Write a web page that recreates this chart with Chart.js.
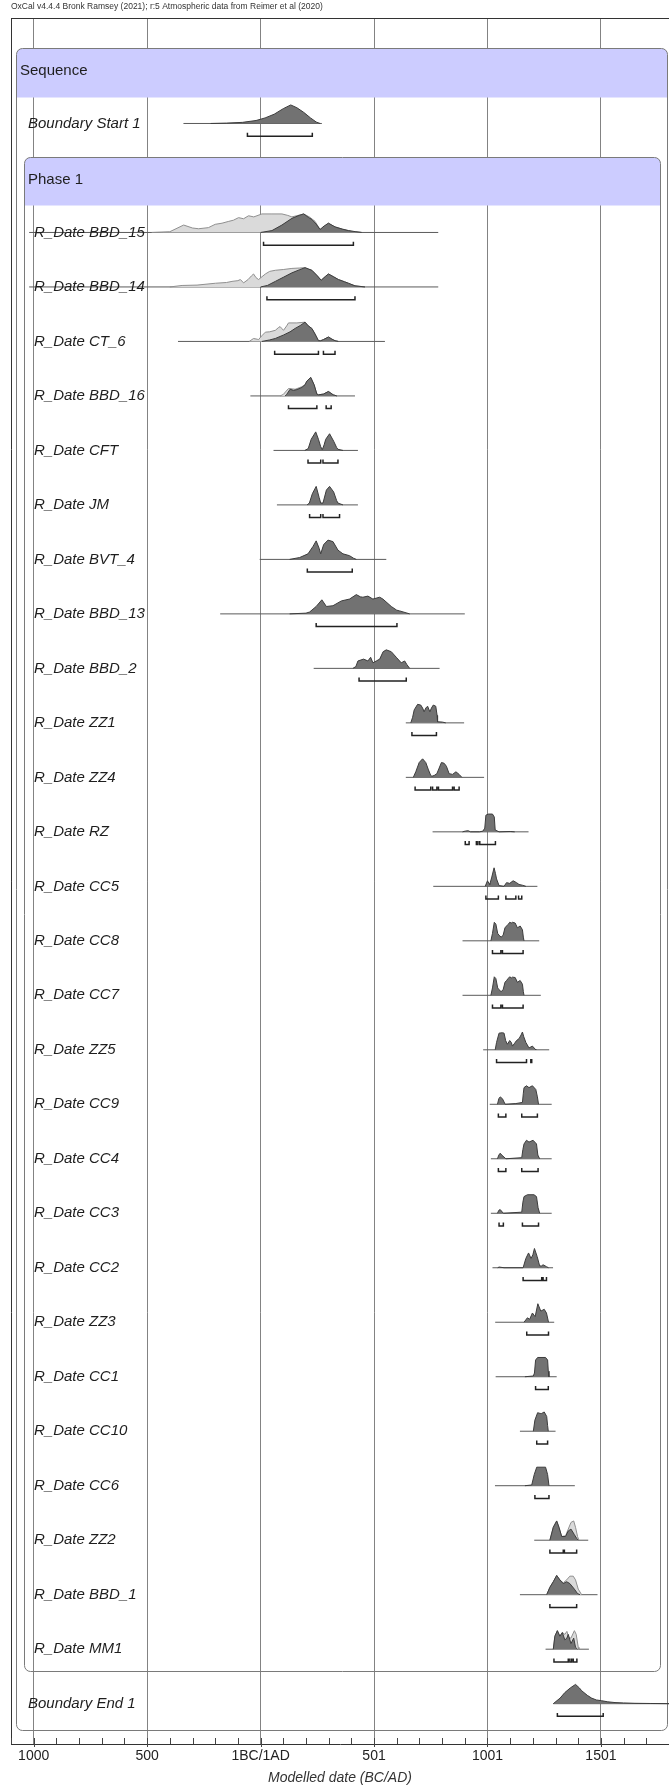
<!DOCTYPE html>
<html><head><meta charset="utf-8">
<script src="https://cdn.jsdelivr.net/npm/chart.js@4.4.1/dist/chart.umd.min.js"></script>
<style>html,body{margin:0;padding:0;background:#fff;} #wrap{width:669px;height:1787px;position:relative;}</style>
</head><body><div id="wrap"><canvas id="c"></canvas></div>
<script>
const headerText = 'OxCal v4.4.4 Bronk Ramsey (2021); r:5 Atmospheric data from Reimer et al (2020)';
const axisTitle = 'Modelled date (BC/AD)';
const xTickYears = [-1000, -500, 0, 500, 1000, 1500];
const xTickLabels = ['1000', '500', '1BC/1AD', '501', '1001', '1501'];
const rowLabels = ['Sequence', 'Boundary Start 1', 'Phase 1',
  'R_Date BBD_15', 'R_Date BBD_14', 'R_Date CT_6', 'R_Date BBD_16', 'R_Date CFT', 'R_Date JM',
  'R_Date BVT_4', 'R_Date BBD_13', 'R_Date BBD_2', 'R_Date ZZ1', 'R_Date ZZ4', 'R_Date RZ',
  'R_Date CC5', 'R_Date CC8', 'R_Date CC7', 'R_Date ZZ5', 'R_Date CC9', 'R_Date CC4', 'R_Date CC3',
  'R_Date CC2', 'R_Date ZZ3', 'R_Date CC1', 'R_Date CC10', 'R_Date CC6', 'R_Date ZZ2', 'R_Date BBD_1',
  'R_Date MM1', 'Boundary End 1'];
const headerRows = [0, 2];

// ---- distributions: [year, relative probability 0-100] ----
const line_Start1 = [-340, 270];
const post_Start1 = [[-220,0],[-150,2],[-80,6],[-20,16],[20,30],[60,50],[100,80],[133,100],[160,85],[190,60],[220,30],[245,8],[262,0]];
const range_Start1 = [[-58, 228]];

const line_BBD15 = [-1020, 783];
const prior_BBD15 = [[-480,0],[-400,4],[-339,40],[-300,24],[-273,20],[-230,26],[-200,44],[-170,50],[-140,60],[-120,66],[-97,80],[-75,74],[-53,90],[-30,84],[6,100],[50,100],[94,100],[120,92],[138,84],[165,92],[190,100],[215,84],[240,60],[262,16],[280,30],[299,50],[328,30],[360,18],[402,6],[446,0]];
const post_BBD15 = [[0,0],[50,10],[94,40],[138,76],[170,92],[190,100],[210,82],[226,70],[245,45],[262,16],[280,35],[299,50],[328,30],[360,18],[387,10],[420,4],[446,0]];
const range_BBD15 = [[13, 409]];

const line_BBD14 = [-1020, 783];
const prior_BBD14 = [[-400,0],[-346,8],[-280,10],[-199,20],[-150,24],[-126,30],[-100,34],[-89,40],[-75,22],[-55,40],[-40,60],[-31,70],[-20,50],[-9,40],[21,70],[40,84],[65,90],[100,94],[138,100],[170,102],[196,104],[210,96],[226,90],[250,60],[267,36],[285,56],[299,70],[320,56],[343,40],[370,28],[387,20],[416,6],[460,0]];
const post_BBD14 = [[0,0],[30,8],[65,30],[100,52],[138,76],[170,92],[196,104],[226,90],[250,60],[267,36],[285,56],[299,70],[320,56],[343,40],[370,28],[387,20],[416,6],[460,0]];
const range_BBD14 = [[28, 416]];

const line_CT6 = [-364, 548];
const prior_CT6 = [[-50,0],[-31,16],[-15,12],[-9,10],[5,30],[21,50],[40,52],[65,60],[80,76],[86,80],[95,68],[101,60],[115,84],[123,100],[160,100],[196,104],[210,84],[226,70],[240,40],[255,4],[265,4],[277,10],[299,24],[315,12],[328,4],[343,0]];
const post_CT6 = [[6,0],[40,8],[65,16],[100,34],[130,52],[152,70],[175,86],[196,104],[210,84],[226,70],[240,40],[255,4],[265,4],[277,10],[299,24],[315,12],[328,4],[343,0]];
const range_CT6 = [[62, 255], [277, 328]];

const line_BBD16 = [-45, 416];
const prior_BBD16 = [[86,0],[100,8],[123,40],[140,38],[152,36],[170,44],[182,50],[196,60],[204,80],[221,100],[236,60],[248,10],[255,6],[277,10],[299,24],[320,6],[336,0]];
const post_BBD16 = [[108,0],[115,8],[130,36],[145,30],[160,34],[182,46],[196,60],[204,80],[221,100],[236,60],[248,10],[255,6],[277,10],[299,24],[320,6],[336,0]];
const range_BBD16 = [[123, 248], [289, 311]];

const line_CFT = [57, 429];
const post_CFT = [[195,0],[210,10],[223,60],[243,100],[255,60],[265,20],[272,4],[280,30],[287,60],[304,90],[322,50],[335,16],[341,6],[363,0]];
const range_CFT = [[209, 265], [275, 341]];

const line_JM = [72, 429];
const post_JM = [[205,0],[215,10],[228,60],[245,100],[258,40],[265,10],[275,10],[290,80],[304,100],[322,70],[335,24],[341,10],[363,0]];
const range_JM = [[216, 265], [275, 348]];

const line_BVT4 = [-4, 554];
const post_BVT4 = [[128,0],[172,10],[209,30],[231,70],[245,100],[258,60],[265,30],[278,80],[297,104],[319,96],[341,50],[363,30],[392,20],[410,6],[422,0]];
const range_BVT4 = [[206, 404]];

const line_BBD13 = [-178, 900];
const post_BBD13 = [[128,0],[200,4],[216,10],[245,40],[270,76],[290,40],[319,44],[356,70],[392,80],[422,104],[440,92],[451,90],[473,96],[495,80],[525,90],[539,80],[576,40],[600,20],[613,16],[657,0]];
const range_BBD13 = [[245, 601]];

const line_BBD2 = [234, 789];
const post_BBD2 = [[407,0],[420,10],[429,40],[454,50],[473,40],[485,60],[495,30],[510,40],[525,50],[540,90],[554,100],[576,90],[598,60],[620,30],[635,40],[645,20],[657,0]];
const range_BBD2 = [[434, 642]];

const line_ZZ1 = [640, 897];
const post_ZZ1 = [[662,0],[670,30],[677,70],[692,100],[706,96],[714,80],[721,60],[728,80],[736,90],[746,60],[753,80],[761,96],[772,90],[778,40],[780,6],[802,4],[816,0]];
const range_ZZ1 = [[667, 775]];

const line_ZZ4 = [640, 985];
const post_ZZ4 = [[673,0],[684,30],[699,80],[714,100],[728,80],[740,40],[750,10],[755,6],[765,10],[777,20],[787,50],[797,80],[809,76],[819,60],[831,20],[846,16],[861,30],[875,16],[887,0]];
const range_ZZ4 = [[681, 750], [758, 777], [784, 846], [853, 875]];

const line_RZ = [758, 1181];
const post_RZ = [[890,0],[902,4],[915,6],[925,0],[965,0],[980,4],[988,20],[993,90],[1004,96],[1022,96],[1030,80],[1034,10],[1051,0],[1100,2],[1120,0]];
const range_RZ = [[902, 919], [951, 958], [966, 1035]];

const line_CC5 = [761, 1220];
const post_CC5 = [[990,0],[1000,30],[1007,15],[1010,10],[1019,50],[1029,100],[1035,70],[1040,40],[1051,4],[1073,0],[1084,20],[1098,16],[1113,30],[1128,20],[1139,10],[1154,6],[1169,0]];
const range_CC5 = [[993, 1048], [1081, 1125], [1137, 1151]];

const line_CC8 = [890, 1228];
const post_CC8 = [[1015,0],[1022,40],[1030,100],[1037,90],[1045,40],[1051,30],[1060,20],[1069,30],[1077,70],[1084,80],[1092,90],[1098,100],[1105,96],[1110,100],[1122,96],[1132,70],[1144,80],[1154,60],[1158,20],[1161,0]];
const range_CC8 = [[1022, 1059], [1066, 1157]];

const line_CC7 = [890, 1235];
const post_CC7 = [[1015,0],[1022,40],[1030,100],[1037,90],[1045,40],[1051,30],[1060,20],[1069,30],[1077,70],[1084,80],[1092,92],[1098,100],[1105,94],[1110,98],[1122,96],[1132,70],[1144,80],[1154,60],[1158,20],[1161,0]];
const range_CC7 = [[1022, 1059], [1066, 1157]];

const line_ZZ5 = [981, 1272];
const post_ZZ5 = [[1034,0],[1040,40],[1051,90],[1065,92],[1073,90],[1080,50],[1088,30],[1098,50],[1105,40],[1110,20],[1120,36],[1128,50],[1139,60],[1148,80],[1154,96],[1160,70],[1169,40],[1183,10],[1198,20],[1210,4],[1213,0]];
const range_ZZ5 = [[1040, 1172], [1191, 1195]];

const line_CC9 = [1010, 1283];
const post_CC9 = [[1044,0],[1050,30],[1056,40],[1066,30],[1078,0],[1125,4],[1154,10],[1158,60],[1161,90],[1172,100],[1183,90],[1198,100],[1213,80],[1220,40],[1225,0]];
const range_CC9 = [[1048, 1081], [1151, 1220]];

const line_CC4 = [1015, 1283];
const post_CC4 = [[1044,0],[1050,20],[1056,30],[1063,20],[1081,0],[1151,6],[1156,50],[1161,80],[1172,100],[1183,90],[1201,100],[1216,80],[1222,20],[1230,0]];
const range_CC4 = [[1048, 1081], [1151, 1223]];

const line_CC3 = [1015, 1283];
const post_CC3 = [[1044,0],[1050,16],[1056,20],[1070,0],[1151,6],[1156,60],[1161,90],[1176,100],[1205,100],[1216,90],[1223,30],[1230,0]];
const range_CC3 = [[1051, 1070], [1154, 1225]];

const line_CC2 = [1022, 1289];
const post_CC2 = [[1045,0],[1051,4],[1073,0],[1157,0],[1169,50],[1181,80],[1192,50],[1200,70],[1207,104],[1219,60],[1230,10],[1238,10],[1245,16],[1260,6],[1269,0]];
const range_CC2 = [[1157, 1239], [1245, 1260]];

const line_ZZ3 = [1034, 1294];
const post_ZZ3 = [[1161,0],[1176,24],[1186,16],[1198,50],[1210,30],[1222,100],[1235,60],[1250,70],[1260,50],[1269,0]];
const range_ZZ3 = [[1173, 1269]];

const line_CC1 = [1036, 1305];
const post_CC1 = [[1165,0],[1202,4],[1207,20],[1212,90],[1221,104],[1256,104],[1265,90],[1268,30],[1271,0]];
const range_CC1 = [[1212, 1268]];

const line_CC10 = [1143, 1300];
const post_CC10 = [[1202,0],[1209,60],[1221,100],[1232,96],[1239,96],[1250,104],[1261,80],[1265,30],[1268,0]];
const range_CC10 = [[1217, 1265]];

const line_CC6 = [1033, 1385];
const post_CC6 = [[1165,0],[1195,4],[1206,60],[1217,100],[1256,100],[1265,60],[1271,0]];
const range_CC6 = [[1209, 1271]];

const line_ZZ2 = [1206, 1444];
const prior_ZZ2 = [[1275,0],[1290,70],[1305,104],[1315,70],[1327,20],[1344,24],[1356,60],[1368,96],[1380,104],[1388,70],[1397,20],[1403,0]];
const post_ZZ2 = [[1275,0],[1290,70],[1305,104],[1315,70],[1327,20],[1344,20],[1356,50],[1368,60],[1383,30],[1393,10],[1400,0]];
const range_ZZ2 = [[1275, 1334], [1339, 1393]];

const line_BBD1 = [1143, 1485];
const prior_BBD1 = [[1261,0],[1275,40],[1290,70],[1305,104],[1319,80],[1334,64],[1349,80],[1363,100],[1378,100],[1388,80],[1400,30],[1415,0]];
const post_BBD1 = [[1261,0],[1275,40],[1290,70],[1305,104],[1319,80],[1334,60],[1349,70],[1363,60],[1383,30],[1397,6],[1408,0]];
const range_BBD1 = [[1275, 1393]];

const line_MM1 = [1256, 1447];
const prior_MM1 = [[1290,0],[1297,70],[1308,100],[1319,70],[1330,90],[1341,80],[1350,96],[1359,60],[1368,60],[1383,100],[1391,80],[1400,10],[1403,0]];
const post_MM1 = [[1290,0],[1297,70],[1308,100],[1319,70],[1330,90],[1341,50],[1350,60],[1356,80],[1368,30],[1380,60],[1388,10],[1397,0]];
const range_MM1 = [[1293, 1356], [1363, 1371], [1378, 1394]];

const line_End1 = [1290, 1800];
const post_End1 = [[1290,0],[1320,30],[1341,60],[1365,85],[1388,104],[1405,85],[1415,70],[1440,45],[1459,30],[1480,20],[1503,16],[1530,10],[1562,6],[1600,4],[1650,2],[1720,1],[1800,0]];
const range_End1 = [[1308, 1510]];

// table linking rows (index into rowLabels) to the arrays above
const rows = [
  [1, line_Start1, null, post_Start1, range_Start1],
  [3, line_BBD15, prior_BBD15, post_BBD15, range_BBD15],
  [4, line_BBD14, prior_BBD14, post_BBD14, range_BBD14],
  [5, line_CT6, prior_CT6, post_CT6, range_CT6],
  [6, line_BBD16, prior_BBD16, post_BBD16, range_BBD16],
  [7, line_CFT, null, post_CFT, range_CFT],
  [8, line_JM, null, post_JM, range_JM],
  [9, line_BVT4, null, post_BVT4, range_BVT4],
  [10, line_BBD13, null, post_BBD13, range_BBD13],
  [11, line_BBD2, null, post_BBD2, range_BBD2],
  [12, line_ZZ1, null, post_ZZ1, range_ZZ1],
  [13, line_ZZ4, null, post_ZZ4, range_ZZ4],
  [14, line_RZ, null, post_RZ, range_RZ],
  [15, line_CC5, null, post_CC5, range_CC5],
  [16, line_CC8, null, post_CC8, range_CC8],
  [17, line_CC7, null, post_CC7, range_CC7],
  [18, line_ZZ5, null, post_ZZ5, range_ZZ5],
  [19, line_CC9, null, post_CC9, range_CC9],
  [20, line_CC4, null, post_CC4, range_CC4],
  [21, line_CC3, null, post_CC3, range_CC3],
  [22, line_CC2, null, post_CC2, range_CC2],
  [23, line_ZZ3, null, post_ZZ3, range_ZZ3],
  [24, line_CC1, null, post_CC1, range_CC1],
  [25, line_CC10, null, post_CC10, range_CC10],
  [26, line_CC6, null, post_CC6, range_CC6],
  [27, line_ZZ2, prior_ZZ2, post_ZZ2, range_ZZ2],
  [28, line_BBD1, prior_BBD1, post_BBD1, range_BBD1],
  [29, line_MM1, prior_MM1, post_MM1, range_MM1],
  [30, line_End1, null, post_End1, range_End1]
];

// ---- build datasets ----
const PEAK = 0.34;      // row units for 100 % probability
const BR_Y = 0.233;     // bracket offset below baseline (row units)
const BR_T = 0.064;     // bracket end tick height
const datasets = [];
for (const [r, line, prior, post, range] of rows) {
  datasets.push({ data: [{x: line[0], y: r}, {x: line[1], y: r}], borderColor: '#5a5a5a', borderWidth: 1, fill: false, order: 4 });
  if (prior) datasets.push({ data: prior.map(([x, p]) => ({x, y: r - p / 100 * PEAK})), borderColor: '#8f8f8f', borderWidth: 1, backgroundColor: '#dadada', fill: {value: r}, order: 3 });
  datasets.push({ data: post.map(([x, p]) => ({x, y: r - p / 100 * PEAK})), borderColor: '#3c3c3c', borderWidth: 1, backgroundColor: '#727272', fill: {value: r}, order: 2 });
  const br = [];
  for (const [a, b] of range) {
    br.push({x: a, y: r + BR_Y - BR_T}, {x: a, y: r + BR_Y}, {x: b, y: r + BR_Y}, {x: b, y: r + BR_Y - BR_T}, {x: b, y: null});
  }
  datasets.push({ data: br, borderColor: '#222', borderWidth: 1.5, fill: false, spanGaps: false, order: 1 });
}

// ---- structure plugin: boxes, labels, frame, minor ticks ----
function rr(ctx, x0, y0, x1, y1, r) {
  ctx.beginPath();
  ctx.moveTo(x0 + r, y0); ctx.lineTo(x1 - r, y0); ctx.arcTo(x1, y0, x1, y0 + r, r);
  ctx.lineTo(x1, y1 - r); ctx.arcTo(x1, y1, x1 - r, y1, r);
  ctx.lineTo(x0 + r, y1); ctx.arcTo(x0, y1, x0, y1 - r, r);
  ctx.lineTo(x0, y0 + r); ctx.arcTo(x0, y0, x0 + r, y0, r); ctx.closePath();
}
function box(ctx, x0, y0, x1, y1, yb) {
  ctx.save();
  rr(ctx, x0, y0, x1, y1, 6); ctx.clip();
  ctx.fillStyle = '#ccccff'; ctx.fillRect(x0, y0, x1 - x0, yb - y0);
  ctx.restore();
  ctx.save();
  rr(ctx, x0, y0, x1, y1, 6);
  ctx.strokeStyle = '#7a7a7a'; ctx.lineWidth = 1; ctx.stroke();
  ctx.restore();
}
const structure = {
  id: 'structure',
  beforeDatasetsDraw(chart) {
    const {ctx, chartArea: ca, scales: {y}} = chart;
    const P = v => Math.round(y.getPixelForValue(v)) + 0.5;
    box(ctx, ca.left + 5.5, P(-0.38), ca.right - 1.5, P(30.48), P(0.52));
    box(ctx, ca.left + 13.5, P(2 - 0.38), ca.right - 8.5, P(29.40), P(2.50));
  },
  afterDatasetsDraw(chart) {
    const {ctx, chartArea: ca, scales: {y}} = chart;
    ctx.save();
    ctx.fillStyle = '#1e1e1e';
    ctx.textBaseline = 'middle';
    rowLabels.forEach((t, i) => {
      const hdr = headerRows.includes(i);
      ctx.font = (hdr ? '' : 'italic ') + '15px "Liberation Sans", Arial, sans-serif';
      const dx = i === 0 ? 9 : (t.startsWith('R_Date') ? 23 : 17);
      ctx.fillText(t, ca.left + dx, y.getPixelForValue(hdr ? i + 0.04 : i));
    });
    ctx.restore();
  },
  afterDraw(chart) {
    const {ctx, chartArea: ca, scales: {x}} = chart;
    ctx.save();
    ctx.strokeStyle = '#333'; ctx.lineWidth = 1;
    ctx.beginPath();
    ctx.moveTo(ca.left, Math.round(ca.top) + 0.5); ctx.lineTo(ca.right, Math.round(ca.top) + 0.5);
    ctx.moveTo(ca.left + 0.5, ca.top); ctx.lineTo(ca.left + 0.5, ca.bottom);
    ctx.stroke();
    ctx.strokeStyle = '#444';
    ctx.beginPath();
    for (let v = -1100; v <= 1800; v += 100) {
      const px = Math.round(x.getPixelForValue(v)) + 0.5;
      const major = xTickYears.includes(v);
      ctx.moveTo(px, ca.bottom - 6); ctx.lineTo(px, ca.bottom + (major ? 3 : 0));
    }
    ctx.stroke();
    ctx.restore();
  }
};

Chart.defaults.font.family = '"Liberation Sans", Arial, sans-serif';
new Chart(document.getElementById('c'), {
  type: 'line',
  data: { datasets },
  plugins: [structure],
  options: {
    responsive: true, maintainAspectRatio: false, animation: false,
    layout: { padding: { left: 11, right: 0, top: 0, bottom: 0 } },
    elements: { point: { radius: 0, hoverRadius: 0, hitRadius: 0 }, line: { tension: 0 } },
    events: [],
    plugins: {
      legend: { display: false }, tooltip: { enabled: false },
      title: { display: true, text: headerText, align: 'start', color: '#333',
        font: { size: 8.5, weight: 'normal' }, padding: { top: 2, bottom: 6 } }
    },
    scales: {
      x: {
        type: 'linear', min: -1100, max: 1800, z: 1,
        afterFit: s => { s.height = 43; s.paddingLeft = 0; s.paddingRight = 0; },
        ticks: { stepSize: 100, autoSkip: false, maxRotation: 0, minRotation: 0, padding: 4,
          color: '#222', font: { size: 14 },
          callback: v => { const i = xTickYears.indexOf(v); return i >= 0 ? xTickLabels[i] : ''; } },
        grid: { drawTicks: false, lineWidth: 1,
          color: c => (c.tick && xTickYears.includes(c.tick.value)) ? 'rgba(90,90,90,0.75)' : 'rgba(0,0,0,0)' },
        border: { display: true, color: '#333', width: 1 },
        title: { display: true, text: axisTitle, color: '#333', font: { size: 14, style: 'italic' }, padding: { top: 0, bottom: 0 } }
      },
      y: { type: 'linear', reverse: true, min: -0.932, max: 30.74, display: false }
    }
  }
});
</script>
</body></html>
